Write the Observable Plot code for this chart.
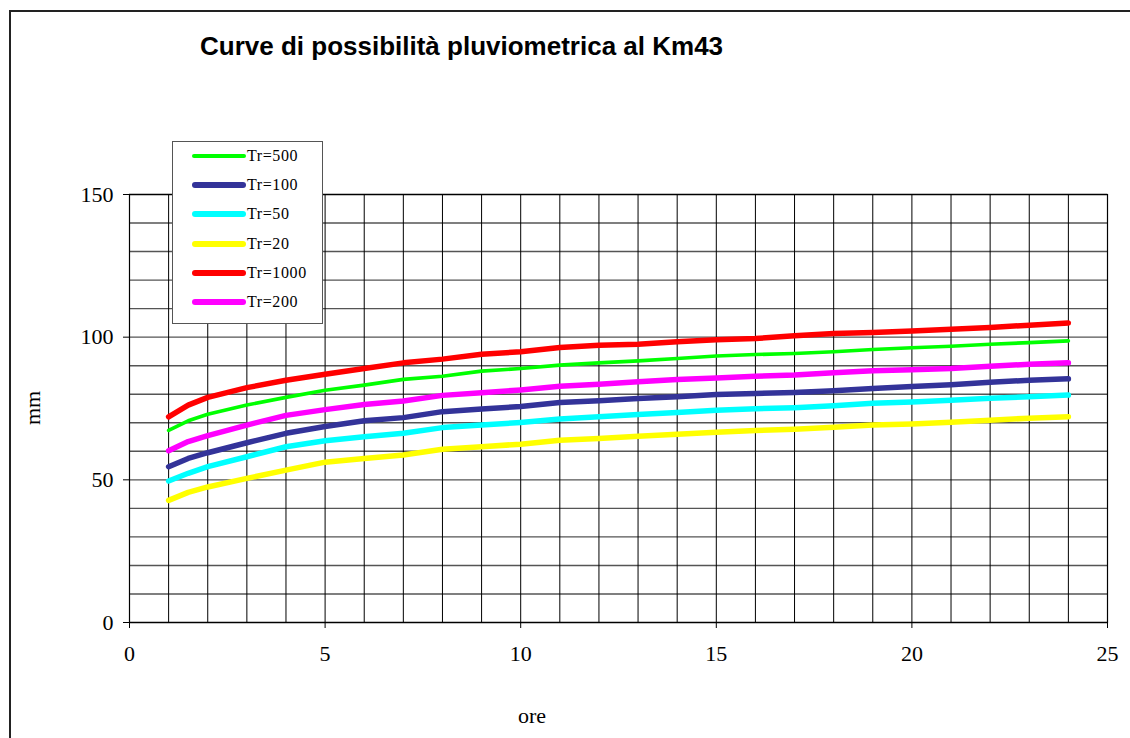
<!DOCTYPE html>
<html>
<head>
<meta charset="utf-8">
<script src="https://cdn.jsdelivr.net/npm/d3@7"></script>
<script src="https://cdn.jsdelivr.net/npm/@observablehq/plot@0.6"></script>
<style>
  body { margin: 0; background: #fff; width: 1130px; height: 738px; overflow: hidden; position: relative; font-family: "Liberation Serif", "Times New Roman", serif; }
  #border { position: absolute; left: 9px; top: 10px; width: 1140px; height: 760px; border: 2px solid #222; box-sizing: border-box; }
  #chart { position: absolute; left: 0; top: 0; }
  #title { position: absolute; left: 200px; top: 32px; font: bold 26px "Liberation Sans", Arial, sans-serif; line-height: 28px; white-space: nowrap; color: #000; }
  .axis-title { position: absolute; font-size: 22px; line-height: 22px; white-space: nowrap; color: #000; }
  #ylab { left: 33px; top: 408px; transform: translate(-50%, -50%) rotate(-90deg); }
  #xlab { left: 532px; top: 716px; transform: translate(-50%, -50%); }
  #legend { position: absolute; left: 172px; top: 141px; width: 151px; height: 183px; background: #fff; border: 1px solid #555; box-sizing: border-box; }
  .row { position: absolute; left: 0; height: 20px; display: flex; align-items: center; }
  .swatch { margin-left: 19px; width: 54px; border-radius: 3px; }
  .lab { margin-left: 1px; font-size: 16px; letter-spacing: 0.6px; white-space: nowrap; }
</style>
</head>
<body>
<div id="border"></div>
<div id="chart"></div>
<div id="title">Curve di possibilità pluviometrica al Km43</div>
<div id="ylab" class="axis-title">mm</div>
<div id="xlab" class="axis-title">ore</div>
<div id="legend"></div>
<script>
// Durations (hours)
const hours = [1, 1.5, 2, 3, 4, 5, 6, 7, 8, 9, 10, 11, 12, 13, 14, 15, 16, 17, 18, 19, 20, 21, 22, 23, 24];

// Rainfall depth (mm) for each return period
const tr500  = [67.3, 70.7, 73.0, 76.2, 78.9, 81.4, 83.2, 85.2, 86.3, 88.1, 89.0, 90.2, 91.0, 91.7, 92.5, 93.4, 93.9, 94.3, 94.9, 95.7, 96.3, 96.8, 97.5, 98.1, 98.7];
const tr100  = [54.6, 57.5, 59.5, 63.0, 66.3, 68.7, 70.7, 71.8, 73.9, 74.8, 75.7, 77.1, 77.7, 78.5, 79.1, 79.9, 80.3, 80.6, 81.2, 82.0, 82.7, 83.3, 84.2, 84.9, 85.4];
const tr50   = [49.6, 52.3, 54.6, 58.1, 61.6, 63.7, 65.1, 66.3, 68.3, 69.2, 70.1, 71.3, 72.1, 72.9, 73.6, 74.4, 74.9, 75.3, 76.0, 76.8, 77.3, 77.9, 78.6, 79.1, 79.7];
const tr20   = [42.8, 45.6, 47.5, 50.5, 53.4, 56.2, 57.5, 58.7, 60.7, 61.6, 62.5, 63.9, 64.5, 65.3, 66.0, 66.7, 67.3, 67.7, 68.4, 69.2, 69.6, 70.2, 70.9, 71.6, 72.1];
const tr1000 = [72.1, 76.2, 78.9, 82.3, 84.9, 87.0, 89.0, 91.0, 92.3, 94.0, 94.9, 96.4, 97.2, 97.5, 98.4, 99.1, 99.5, 100.5, 101.3, 101.6, 102.2, 102.8, 103.4, 104.2, 105.0];
const tr200  = [60.2, 63.4, 65.5, 69.2, 72.6, 74.6, 76.4, 77.6, 79.6, 80.5, 81.5, 82.8, 83.5, 84.4, 85.2, 85.7, 86.3, 86.7, 87.5, 88.2, 88.6, 89.0, 89.8, 90.5, 91.0];

const seriesNames  = ["Tr=500", "Tr=100", "Tr=50", "Tr=20", "Tr=1000", "Tr=200"];
const seriesValues = [tr500, tr100, tr50, tr20, tr1000, tr200];
const seriesColors = ["#00ff00", "#333399", "#00ffff", "#ffff00", "#ff0000", "#ff00ff"];
const seriesWidths = [3.6, 5.5, 5.5, 5.5, 5.5, 5.5];

// Axis ticks and grid
const xTicks = [0, 5, 10, 15, 20, 25];
const yTicks = [0, 50, 100, 150];
const xGrid = d3.range(0, 26, 1);
const yGrid = d3.range(0, 151, 10);

const rows = seriesNames.flatMap((name, i) =>
  hours.map((h, j) => ({ series: name, ore: h, mm: seriesValues[i][j] }))
);

const lineMarks = seriesNames.map((name, i) =>
  Plot.line(rows.filter(d => d.series === name), {
    x: "ore", y: "mm",
    stroke: seriesColors[i], strokeWidth: seriesWidths[i],
    strokeLinecap: "round", strokeLinejoin: "round"
  })
);

const chart = Plot.plot({
  width: 1130,
  height: 738,
  marginTop: 194,
  marginRight: 23,
  marginBottom: 116,
  marginLeft: 129,
  style: { fontFamily: "'Liberation Serif', 'Times New Roman', serif", fontSize: "22px", background: "transparent", color: "#000" },
  x: { domain: [0, 25] },
  y: { domain: [0, 150] },
  marks: [
    Plot.ruleY(yGrid, { stroke: "#555", strokeWidth: 1.4 }),
    Plot.ruleX(xGrid, { stroke: "#000", strokeWidth: 1 }),
    Plot.frame({ stroke: "#000", strokeWidth: 1.2 }),
    Plot.axisX({ ticks: xTicks, tickSize: 6, tickPadding: 17, label: null, fontSize: 22, tickFormat: d => String(d) }),
    Plot.axisY({ ticks: yTicks, tickSize: 6, tickPadding: 10, label: null, fontSize: 22, tickFormat: d => String(d) }),
    ...lineMarks
  ]
});
document.getElementById("chart").appendChild(chart);

// Legend box
const legend = document.getElementById("legend");
seriesNames.forEach((name, i) => {
  const row = document.createElement("div");
  row.className = "row";
  row.style.top = (3.6 + i * 29.3) + "px";
  const sw = document.createElement("div");
  sw.className = "swatch";
  sw.style.height = (seriesWidths[i] + 0.5) + "px";
  sw.style.background = seriesColors[i];
  const lab = document.createElement("span");
  lab.className = "lab";
  lab.textContent = name;
  row.appendChild(sw);
  row.appendChild(lab);
  legend.appendChild(row);
});
</script>
</body>
</html>
